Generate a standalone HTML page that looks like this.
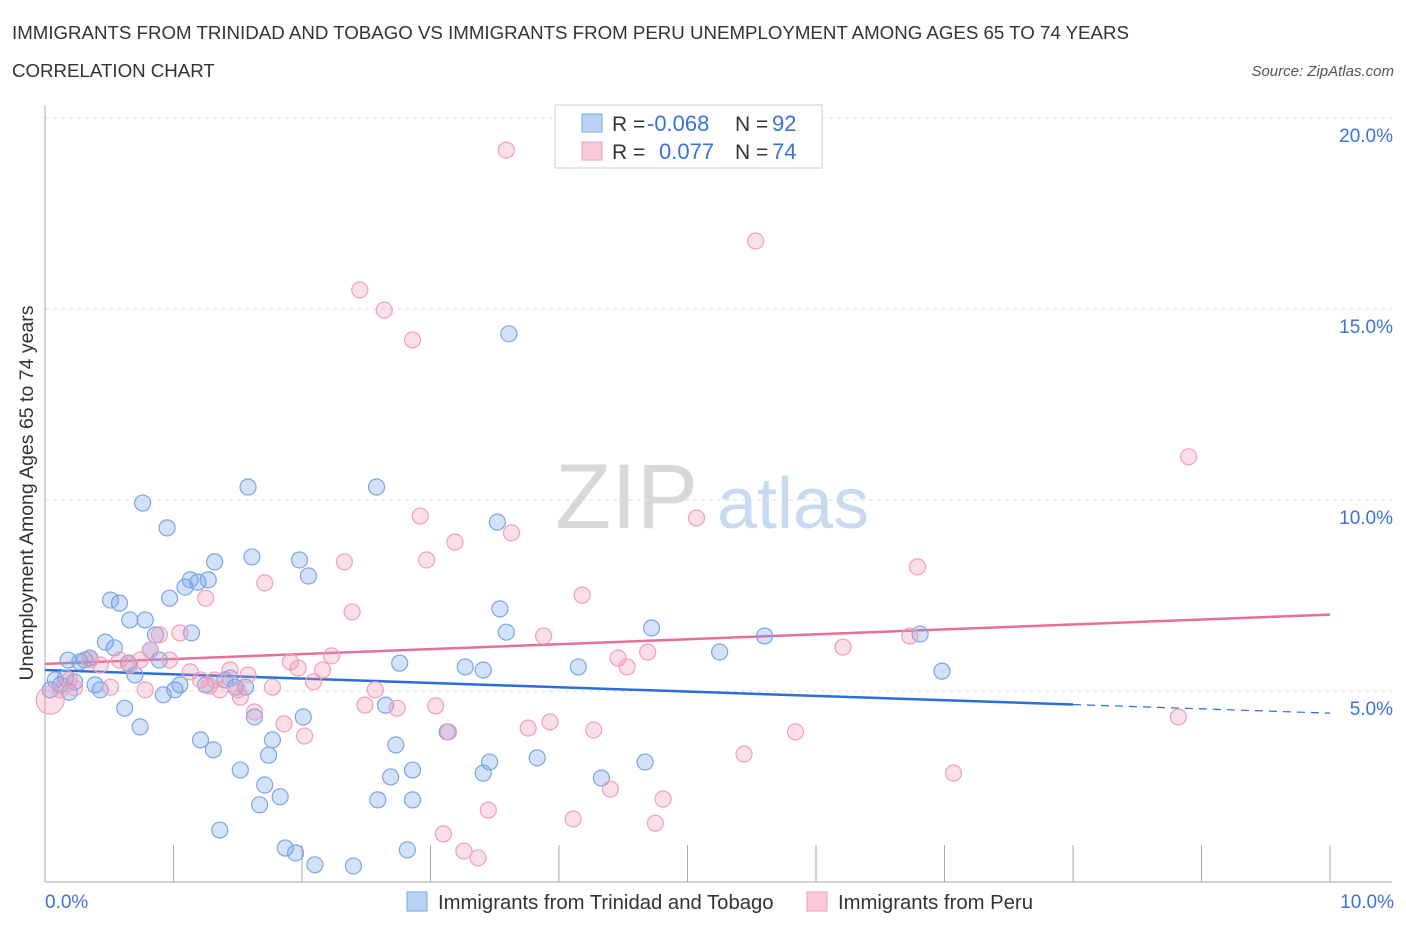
<!DOCTYPE html>
<html><head><meta charset="utf-8"><style>
body{margin:0;background:#fff;font-family:"Liberation Sans",sans-serif;}
svg text{font-family:"Liberation Sans",sans-serif;}
</style></head><body>
<svg id="chart" width="1406" height="930" viewBox="0 0 1406 930" xmlns="http://www.w3.org/2000/svg">
<text x="12" y="39" font-size="18.7" fill="#333">IMMIGRANTS FROM TRINIDAD AND TOBAGO VS IMMIGRANTS FROM PERU UNEMPLOYMENT AMONG AGES 65 TO 74 YEARS</text>
<text x="12" y="77" font-size="18.7" fill="#333">CORRELATION CHART</text>
<text x="1394" y="76" font-size="15" fill="#555" font-style="italic" text-anchor="end">Source: ZipAtlas.com</text>
<g>
<text x="555" y="528" font-size="92" fill="#d8d8d8" font-family="Liberation Serif">ZIP</text>
<text x="717" y="528" font-size="72" fill="#c8daf0">atlas</text>
</g>
<g id="grid"></g>
<g id="axes"></g>
<g id="lines"></g>
<g id="pts"></g>
<text transform="translate(33,493) rotate(-90)" font-size="19.5" fill="#333" text-anchor="middle">Unemployment Among Ages 65 to 74 years</text>
<g>
<rect x="555" y="105" width="267" height="63" fill="#fff" stroke="#ccc"/>
<rect x="582" y="114" width="20" height="18" fill="#b9d1f5" stroke="#7aa6e6"/>
<rect x="582" y="142" width="20" height="18" fill="#f9c9d7" stroke="#ef9fb7"/>
<text x="612" y="131" font-size="21" fill="#333">R = </text><text x="647" y="131" font-size="22" fill="#3a72d8">-0.068</text>
<text x="735" y="131" font-size="21" fill="#333">N = </text><text x="772" y="131" font-size="22" fill="#3a72d8">92</text>
<text x="612" y="159" font-size="21" fill="#333">R = </text><text x="659" y="159" font-size="22" fill="#3a72d8">0.077</text>
<text x="735" y="159" font-size="21" fill="#333">N = </text><text x="772" y="159" font-size="22" fill="#3a72d8">74</text>
</g>
<g>
<rect x="407" y="892" width="20" height="19" fill="#b9d1f5" stroke="#7aa6e6"/>
<text x="438" y="909" font-size="20.3" fill="#333">Immigrants from Trinidad and Tobago</text>
<rect x="807" y="892" width="20" height="19" fill="#f9c9d7" stroke="#ef9fb7"/>
<text x="838" y="909" font-size="20.3" fill="#333">Immigrants from Peru</text>
</g>
</svg>
<script>
const xTicks=[0,1,2,3,4,5,6,7,8,9,10];
const yTicks=[5,10,15,20];
const yTickLabels=["5.0%","10.0%","15.0%","20.0%"];
const blueX=[.04,.08,.12,.16,.19,.18,.23,.27,.31,.35,.39,.43,.47,.51,.54,.58,.62,.65,.66,.70,.74,.76,.78,.82,.86,.89,.92,.95,.97,1.01,1.05,1.09,1.13,1.14,1.19,1.21,1.25,1.27,1.31,1.32,1.36,1.40,1.44,1.48,1.52,1.56,1.58,1.61,1.63,1.67,1.71,1.74,1.77,1.83,1.87,1.95,1.98,2.01,2.05,2.10,2.40,2.58,2.59,2.65,2.69,2.73,2.76,2.82,2.86,2.86,3.13,3.27,3.41,3.41,3.46,3.52,3.54,3.59,3.61,3.83,4.15,4.33,4.67,4.72,5.25,5.60,6.81,6.98];
const blueY=[5.03,5.29,5.16,5.34,4.97,5.81,5.24,5.76,5.81,5.86,5.16,5.03,6.28,7.38,6.13,7.30,4.55,5.73,6.86,5.42,4.06,9.92,6.86,6.07,6.47,5.81,4.90,9.27,7.43,5.03,5.16,7.72,7.91,6.52,7.85,3.72,5.16,7.91,3.46,8.38,1.36,5.29,5.34,5.10,2.93,5.10,10.34,8.51,4.32,2.02,2.54,3.32,3.72,2.23,0.89,0.76,8.43,4.32,8.01,0.45,0.42,10.34,2.15,4.63,2.75,3.59,5.73,0.84,2.93,2.15,3.93,5.63,2.85,5.55,3.14,9.42,7.15,6.54,14.35,3.25,5.63,2.72,3.14,6.65,6.02,6.44,6.49,5.52];
const pinkX=[.04,.12,.19,.23,.35,.43,.51,.58,.66,.74,.78,.82,.89,.97,1.05,1.13,1.21,1.25,1.28,1.32,1.36,1.44,1.50,1.52,1.58,1.63,1.71,1.77,1.86,1.91,1.97,2.02,2.09,2.16,2.23,2.33,2.39,2.45,2.49,2.57,2.64,2.74,2.86,2.92,2.97,3.04,3.10,3.14,3.19,3.26,3.37,3.45,3.59,3.63,3.76,3.88,3.93,4.11,4.18,4.27,4.40,4.46,4.53,4.69,4.75,4.81,5.07,5.44,5.53,5.84,6.21,6.73,6.79,7.07,8.82,8.90];
const pinkY=[4.76,5.03,5.29,5.08,5.81,5.68,5.10,5.81,5.68,5.81,5.03,6.07,6.47,5.81,6.52,5.50,5.29,7.43,5.13,5.29,5.03,5.55,5.03,4.84,5.42,4.45,7.83,5.10,4.14,5.76,5.60,3.82,5.24,5.55,5.92,8.38,7.07,15.50,4.63,5.03,14.97,4.55,14.19,9.58,8.43,4.61,1.26,3.93,8.90,0.81,0.63,1.88,19.16,9.14,4.03,6.44,4.19,1.65,7.51,3.98,2.43,5.86,5.63,6.02,1.54,2.17,9.53,3.35,16.78,3.93,6.15,6.44,8.25,2.85,4.32,11.13];
const blueTrend=[5.55,4.42], pinkTrend=[5.71,7.0], blueSolidEnd=8.0;
const NS="http://www.w3.org/2000/svg";
const X=v=>45+v*128.5, Y=v=>882-v*38.2;
function mk(tag,attrs,parent){const e=document.createElementNS(NS,tag);for(const k in attrs)e.setAttribute(k,attrs[k]);parent.appendChild(e);return e;}
const grid=document.getElementById('grid'),axes=document.getElementById('axes'),lines=document.getElementById('lines'),pts=document.getElementById('pts');
yTicks.forEach((t,i)=>{
 const l=mk('line',{x1:45,x2:1392,y1:Y(t),y2:Y(t),stroke:'#ddd','stroke-dasharray':'4,4'},grid);
 
 
 const tx=mk('text',{x:1393,y:Y(t)+24,'font-size':19,fill:'#3a72d8','text-anchor':'end'},axes);
 tx.textContent=yTickLabels[i];
 
 
});
const ax=mk('line',{x1:45,x2:45,y1:105,y2:882,stroke:'#aaa'},axes);


const bx=mk('line',{x1:45,x2:1392,y1:882,y2:882,stroke:'#aaa'},axes);


xTicks.forEach(t=>{
 const l=mk('line',{x1:X(t),x2:X(t),y1:845,y2:882,stroke:'#aaa'},axes);
 
 
});
[[0,"0.0%",'start',45],[10,"10.0%",'end',1394]].forEach(a=>{
 const tx=mk('text',{x:a[3],y:908,'font-size':19,fill:'#3a72d8','text-anchor':a[2]},axes);
 tx.textContent=a[1];
 
 
});
function dot(x,y,r,fill,stroke,name){
 const c=mk('circle',{cx:X(x),cy:Y(y),r:r,fill:fill,stroke:stroke,'stroke-width':1.2},pts);
 
 
}
blueX.forEach((x,i)=>dot(x,blueY[i],8,'rgba(110,160,235,0.3)','#7aa6e6','trinidad-point'));
pinkX.forEach((x,i)=>dot(x,pinkY[i],i===0?14:8,'rgba(240,150,180,0.3)','#efa0b9','peru-point'));
const by=x=>blueTrend[0]+(blueTrend[1]-blueTrend[0])*x/10;
const b1=mk('line',{x1:X(0),y1:Y(by(0)),x2:X(blueSolidEnd),y2:Y(by(blueSolidEnd)),stroke:'#2a6fd6','stroke-width':2.5},lines);


const b2=mk('line',{x1:X(blueSolidEnd),y1:Y(by(blueSolidEnd)),x2:X(10),y2:Y(by(10)),stroke:'#2a6fd6','stroke-width':1.2,'stroke-dasharray':'8,6'},lines);


const p1=mk('line',{x1:X(0),y1:Y(pinkTrend[0]),x2:X(10),y2:Y(pinkTrend[1]),stroke:'#e5709a','stroke-width':2.5},lines);


</script>
</body></html>
